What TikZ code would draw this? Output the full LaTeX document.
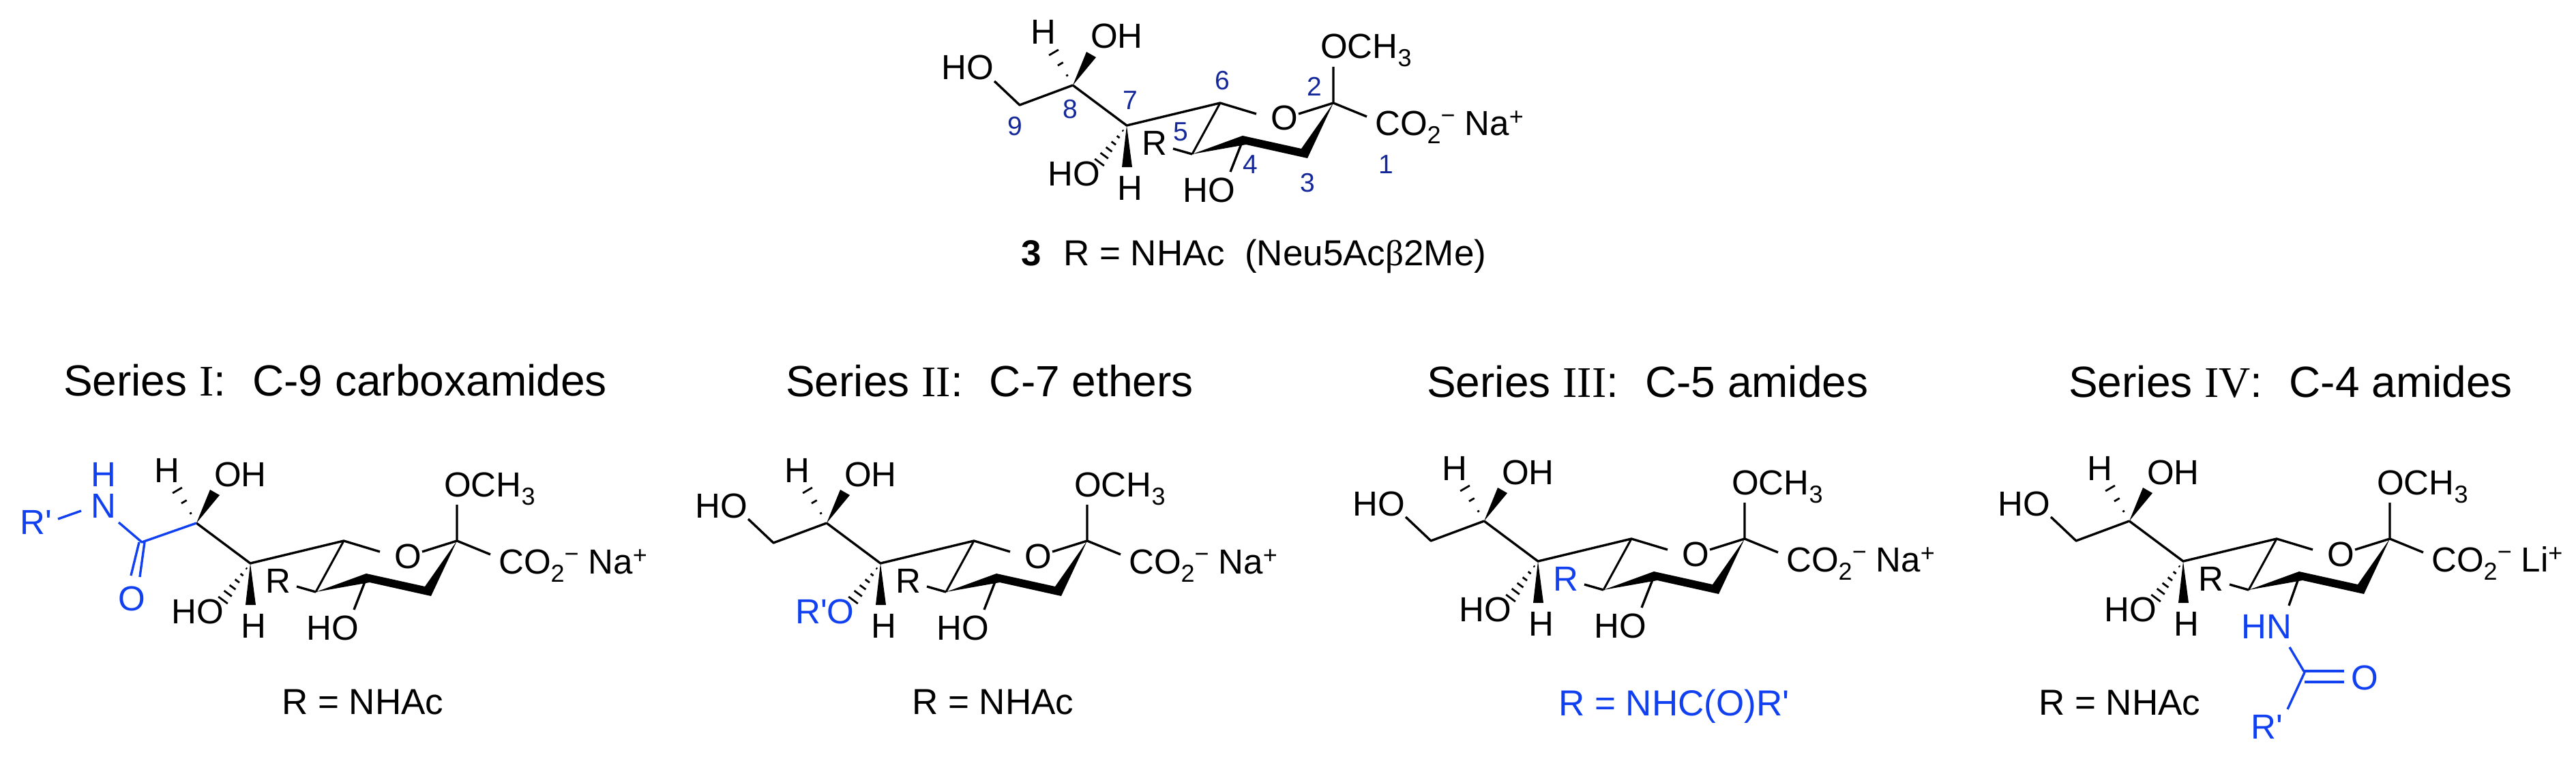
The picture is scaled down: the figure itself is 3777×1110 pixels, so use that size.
\documentclass[tikz,border=0pt]{standalone}
\usepackage{fontspec}
\newfontfamily\lib{Liberation Sans}
\newfontfamily\libser{Liberation Serif}
\definecolor{hl}{HTML}{1040F0}
\definecolor{numc}{HTML}{15289A}
\newcommand\lowr[1]{\raisebox{-12pt}{\fontsize{36}{36}\selectfont #1}}
\newcommand\rais[2][17pt]{\raisebox{#1}{\fontsize{36}{36}\selectfont #2}}
\tikzset{
  lab/.style={anchor=base west,inner sep=0pt,font=\lib\fontsize{51}{51}\selectfont},
  hlab/.style={lab,text=hl},
  captext/.style={lab,font=\lib\fontsize{53}{53}\selectfont},
  hcaptext/.style={captext,text=hl},
  ttl/.style={anchor=base west,inner sep=0pt,font=\lib\fontsize{64}{64}\selectfont},
  num/.style={anchor=center,inner sep=0pt,text=numc,font=\lib\fontsize{39}{39}\selectfont},
  bond/.style={line width=3.4pt,line join=round},
  hbond/.style={bond,draw=hl},
  hashm/.style={line width=2.8pt},
  solidw/.style={fill=black,draw=none}
}
% atoms, bonds and labels shared by every molecule; origin at C-2
\newcommand\core[2]{%
  \coordinate (c2) at (0,0);
  \coordinate (c3) at (-40,78);
  \coordinate (c4) at (-131,50);
  \coordinate (c5) at (-207,75);
  \coordinate (c6) at (-166,0);
  \coordinate (c7) at (-303,33);
  \coordinate (c8) at (-382,-26);
  \coordinate (eOme) at (0,-53);
  \coordinate (eCO) at (49,20);
  \coordinate (eO1) at (-113,16);
  \coordinate (eO2) at (-51,16);
  \coordinate (eR) at (-235,67);
  \coordinate (eH7a) at (-310,94);
  \coordinate (eH7b) at (-295,94);
  \coordinate (eOHa) at (-362,-75);
  \coordinate (eOHb) at (-348,-67);
  \draw[bond] (eOme) -- (c2) -- (eCO);
  \draw[bond] (eO2) -- (c2);
  \draw[bond] (eO1) -- (c6) -- (c7) -- (c8);
  \draw[bond,line width=3pt] (c6) -- (c5);
  \draw[bond] (eR) -- (c5);
  \fill[solidw] (c5) -- (-133,48) -- (-47,67) -- (c2) -- (-38,81) -- (-128,61) -- cycle;
  \fill[solidw] (c7) -- (eH7a) -- (eH7b) -- cycle;
  \fill[solidw] (c8) -- (eOHa) -- (eOHb) -- cycle;
  \foreach \t/\w in {.14/1,.31/2.5,.48/4,.65/5.5,.82/7,1/8.5}
    \draw[hashm] ({-303-40*\t+.804*\w},{33+54*\t+.595*\w}) -- ({-303-40*\t-.804*\w},{33+54*\t-.595*\w});
  \foreach \t/\w in {.3/1.5,.65/4.5,1/8}
    \draw[hashm] ({-382-28*\t+.864*\w},{-26-48*\t-.504*\w}) -- ({-382-28*\t-.864*\w},{-26-48*\t+.504*\w});
  \node[lab] (ome) at (-19,-65) {OCH\lowr{3}};
  \node[lab] (co) at (61,48) {CO\lowr{2}\rais{\char"2212}\hspace{14pt}#2\rais[15pt]{+}};
  \node[lab] (ox) at (-92,40) {O};
  \node[lab,text=#1] (rr) at (-281,76) {R};
  \node[lab] (hh7) at (-317,142) {H};
  \node[lab] (hh8) at (-444,-86) {H};
  \node[lab] (oh8) at (-356,-80) {OH};
}
\newcommand\hoseven{%
  \node[lab] (ho7) at (-419,121) {HO};
}
\newcommand\hofour{%
  \coordinate (eH4) at (-151,101);
  \draw[bond] (c4) -- (eH4);
  \node[lab] (ho4) at (-221,145) {HO};
}
\newcommand\cnine{%
  \coordinate (c9) at (-460,3);
  \coordinate (eH9) at (-497,-32);
  \draw[bond] (c8) -- (c9) -- (eH9);
  \node[lab] (ho9) at (-575,-34) {HO};
}
\begin{document}
\begin{tikzpicture}[x=1pt,y=-1pt]
\useasboundingbox (0,0) rectangle (3777,1110);
\fill[white] (0,0) rectangle (3777,1110);
% compound 3
\begin{scope}[shift={(1955,151)},name prefix=t-]
  \core{black}{Na}\hoseven\hofour\cnine
  \node[num] (n1) at (77,90) {1};
  \node[num] (n2) at (-28,-24) {2};
  \node[num] (n3) at (-38,117) {3};
  \node[num] (n4) at (-122,90) {4};
  \node[num] (n5) at (-224,42) {5};
  \node[num] (n6) at (-163,-33) {6};
  \node[num] (n7) at (-298,-4) {7};
  \node[num] (n8) at (-386,9) {8};
  \node[num] (n9) at (-467,34) {9};
\end{scope}
\node[captext,font=\lib\bfseries\fontsize{53}{53}\selectfont] (cap3) at (1497,389) {3};
\node[captext] (capR) at (1559,389) {R = NHAc};
\node[captext] (capN) at (1825,389) {(Neu5Ac{\libser β}2Me)};
% series I
\node[ttl] (t1) at (93,580) {Series {\libser I}:\hspace{39pt}C-9 carboxamides};
\begin{scope}[shift={(670,793)},name prefix=a-]
  \core{black}{Na}\hoseven\hofour
  \coordinate (cam) at (-462,2);
  \coordinate (eN) at (-496,-27);
  \coordinate (eOa) at (-465,53);
  \coordinate (eOb) at (-478,51);
  \coordinate (sa) at (-458,2);
  \coordinate (sb) at (-466,2);
  \coordinate (eRa) at (-585,-32);
  \coordinate (eRb) at (-551,-44);
  \draw[hbond] (c8) -- (cam) -- (eN);
  \draw[hbond] (sa) -- (eOa);
  \draw[hbond] (sb) -- (eOb);
  \draw[hbond] (eRa) -- (eRb);
  \node[hlab] (nn) at (-537,-34) {N};
  \node[hlab] (nh) at (-537,-80) {H};
  \node[hlab] (oo) at (-497,102) {O};
  \node[hlab] (rp) at (-641,-10) {R'};
\end{scope}
\node[captext] (r1) at (413,1047) {R = NHAc};
% series II
\node[ttl] (t2) at (1152,581) {Series {\libser II}:\hspace{39pt}C-7 ethers};
\begin{scope}[shift={(1594,793)},name prefix=b-]
  \core{black}{Na}\hofour\cnine
  \node[hlab] (ro) at (-428,121) {R'O};
\end{scope}
\node[captext] (r2) at (1337,1047) {R = NHAc};
% series III
\node[ttl] (t3) at (2092,582) {Series {\libser III}:\hspace{39pt}C-5 amides};
\begin{scope}[shift={(2558,790)},name prefix=c-]
  \core{hl}{Na}\hoseven\hofour\cnine
\end{scope}
\node[hcaptext] (r3) at (2285,1049) {R = NHC(O)R'};
% series IV
\node[ttl] (t4) at (3033,582) {Series {\libser IV}:\hspace{39pt}C-4 amides};
\begin{scope}[shift={(3504,790)},name prefix=d-]
  \core{black}{Li}\hoseven\cnine
  \coordinate (eN4) at (-148,98);
  \coordinate (eNb) at (-147,159);
  \coordinate (cam) at (-125,196);
  \coordinate (eRp) at (-150,250);
  \coordinate (sa) at (-125,194);
  \coordinate (sb) at (-125,210);
  \coordinate (eOa) at (-67,194);
  \coordinate (eOb) at (-67,210);
  \draw[bond] (c4) -- (eN4);
  \draw[hbond] (eNb) -- (cam) -- (eRp);
  \draw[hbond] (sa) -- (eOa);
  \draw[hbond] (sb) -- (eOb);
  \node[hlab] (hn) at (-218,146) {HN};
  \node[hlab] (oo) at (-57,221) {O};
  \node[hlab] (rp) at (-204,293) {R'};
\end{scope}
\node[captext] (r4) at (2989,1048) {R = NHAc};
\end{tikzpicture}
\end{document}
